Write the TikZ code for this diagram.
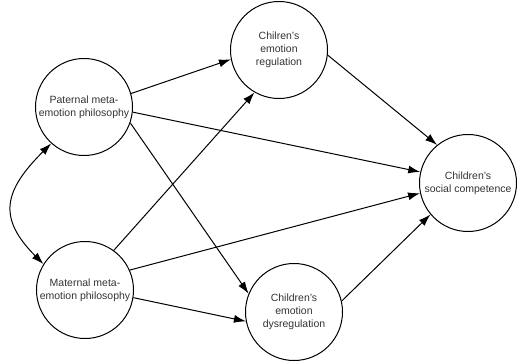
\documentclass[tikz,border=0pt]{standalone}
\usepackage{fontspec}
\setmainfont{Liberation Sans}
\usetikzlibrary{arrows.meta}
\tikzset{
 v/.style
  = {circle, draw, line width=1pt, minimum size=97pt, inner sep=0pt,
     align=center, text=black!80, font=\fontsize{10.5}{13}\selectfont},
 l/.style
  = {draw, line width=1pt, -{Latex[length=12pt,width=8pt]}},
 ll/.style
  = {draw, line width=1pt, {Latex[length=12pt,width=8pt]}-{Latex[length=12pt,width=8pt]}},
}
\begin{document}
\begin{tikzpicture}[x=1pt,y=-1pt]
\useasboundingbox (0,0) rectangle (517,361);

% Parents
\node[v] (pat) at (84,107) {Paternal meta-\\emotion philosophy};
\node[v] (mat) at (85,290) {Maternal meta-\\emotion philosophy};

% Children
\node[v] (reg) at (279,50) {Chilren's\\emotion\\regulation};
\node[v] (dys) at (294,312) {Children's\\emotion\\dysregulation};
\node[v] (soc) at (468,183) {Children's\\social competence};

% Paths
\draw[l] (pat.16) -- (reg.191);
\draw[l] (pat.-6) -- (soc.167);
\draw[l] (pat.-19) -- (dys.158);
\draw[l] (mat.54) -- (reg.240);
\draw[l] (mat.24) -- (soc.192);
\draw[l] (mat.-9) -- (dys.191);
\draw[l] (reg.-6) -- (soc.129);
\draw[l] (dys.13) -- (soc.220);

% Covariance
\draw[ll] (pat.228) to[out=225,in=135,looseness=1.4] (mat.148);

\end{tikzpicture}
\end{document}
